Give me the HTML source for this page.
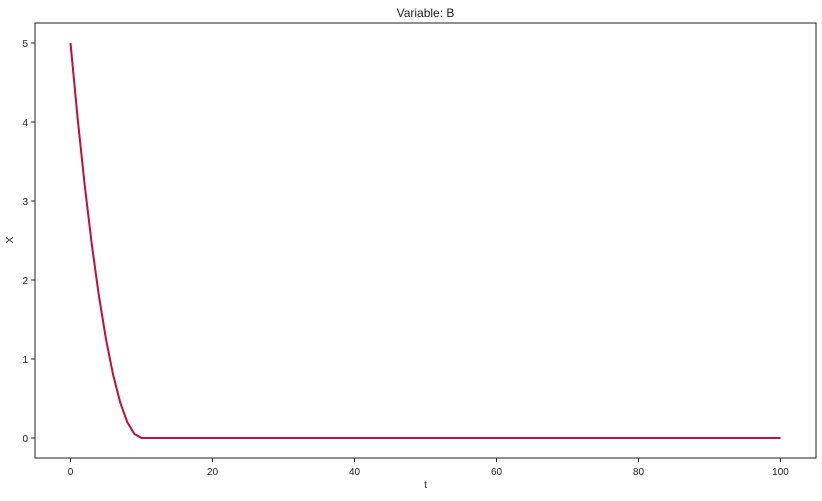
<!DOCTYPE html>
<html><head><meta charset="utf-8"><style>
body{margin:0;background:#fff}
svg text{font-family:"Liberation Sans","DejaVu Sans",sans-serif;fill:#222}
</style></head><body>
<svg id="c" width="822" height="496"></svg>
<script>
const tValues=[0,1,2,3,4,5,6,7,8,9,10,20,30,40,50,60,70,80,90,100];
const seriesA=[5,4.05,3.2,2.45,1.8,1.25,0.8,0.45,0.2,0.05,0,0,0,0,0,0,0,0,0,0];
const seriesB=[5,4.05,3.2,2.45,1.8,1.25,0.8,0.45,0.2,0.05,0,0,0,0,0,0,0,0,0,0];
const xTicks=[0,20,40,60,80,100];
const yTicks=[0,1,2,3,4,5];
const L=35,R=816,T=23,B=458;
const x=v=>L+(v+5)/110*(R-L);
const y=v=>438-v*79;
const s=document.getElementById('c'),NS='http://www.w3.org/2000/svg';
function mk(t,a,p){const e=document.createElementNS(NS,t);for(const k in a)e.setAttribute(k,a[k]);(p||s).appendChild(e);return e;}
const frame=mk('rect',{x:L,y:T,width:R-L,height:B-T,fill:'none',stroke:'#222','stroke-width':1});


xTicks.forEach(v=>{
 const l=mk('line',{x1:x(v),x2:x(v),y1:B,y2:B+4,stroke:'#222'});
 
 
 const t=mk('text',{x:x(v),y:B+17,'font-size':10,'text-anchor':'middle'});t.textContent=v;
 
 
});
yTicks.forEach(v=>{
 const l=mk('line',{x1:L-4,x2:L,y1:y(v),y2:y(v),stroke:'#222'});
 
 
 const t=mk('text',{x:L-7,y:y(v)+4,'font-size':10,'text-anchor':'end'});t.textContent=v;
 
 
});
const pa=mk('polyline',{points:tValues.map((t,i)=>x(t)+','+y(seriesA[i])).join(' '),fill:'none',stroke:'#3b4cc0','stroke-width':2});


const pb=mk('polyline',{points:tValues.map((t,i)=>x(t)+','+y(seriesB[i])).join(' '),fill:'none',stroke:'#e8001c','stroke-width':1.6});


const ti=mk('text',{x:(L+R)/2,y:17,'font-size':12,'text-anchor':'middle'});ti.textContent='Variable: B';


const xl=mk('text',{x:(L+R)/2,y:488,'font-size':10,'text-anchor':'middle'});xl.textContent='t';


const yl=mk('text',{x:13,y:240,'font-size':10,'text-anchor':'middle',transform:'rotate(-90 13 240)'});yl.textContent='X';


</script>
</body></html>
